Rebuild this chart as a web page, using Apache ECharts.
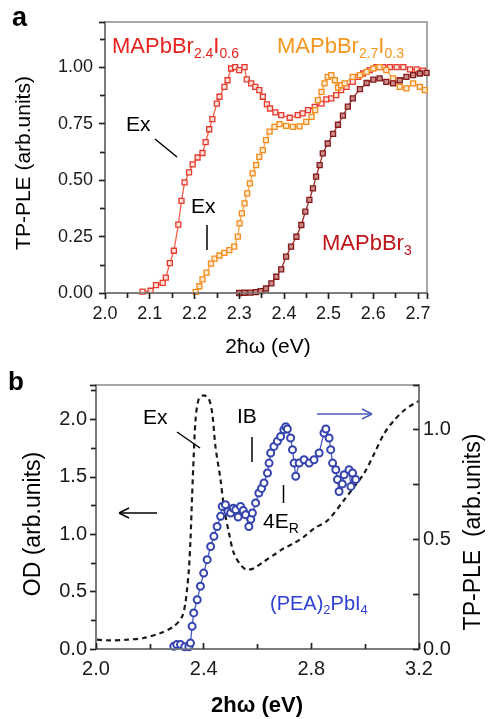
<!DOCTYPE html>
<html>
<head>
<meta charset="utf-8">
<script src="https://cdn.jsdelivr.net/npm/echarts@6/dist/echarts.min.js"></script>
<style>html,body{margin:0;padding:0;background:#fff}
.p{position:absolute;left:0;width:489px}
.ov{pointer-events:none}
#pa,#ta{top:0;height:360px}
#pb,#tb{top:360px;height:359px}
#ta,#tb{z-index:5}</style>
</head>
<body>
<div id="pa" class="p"></div>
<div id="pb" class="p"></div>
<div id="ta" class="p ov"></div>
<div id="tb" class="p ov"></div>
<script>
// ---------- Panel a data: TP-PLE (arb.units) vs 2ħω (eV) ----------
const redData = [[2.084,0.006],[2.102,0.01],[2.114,0.035],[2.129,0.045],[2.136,0.068],[2.145,0.132],[2.154,0.187],[2.164,0.303],[2.171,0.408],[2.178,0.49],[2.188,0.534],[2.196,0.57],[2.207,0.6],[2.218,0.62],[2.225,0.668],[2.233,0.725],[2.240,0.77],[2.25,0.839],[2.256,0.869],[2.267,0.913],[2.274,0.942],[2.282,0.994],[2.291,1.0],[2.30,0.987],[2.312,1.0],[2.317,0.946],[2.327,0.928],[2.336,0.913],[2.345,0.898],[2.353,0.869],[2.362,0.835],[2.369,0.817],[2.381,0.8],[2.394,0.788],[2.413,0.776],[2.431,0.788],[2.442,0.795],[2.454,0.81],[2.469,0.824],[2.484,0.839],[2.495,0.857],[2.506,0.862],[2.517,0.876],[2.528,0.898],[2.54,0.913],[2.554,0.935],[2.566,0.957],[2.577,0.972],[2.592,0.987],[2.607,1.0],[2.622,1.0],[2.637,1.0],[2.652,1.0],[2.667,1.0],[2.682,0.99],[2.697,0.99],[2.711,0.985]];
const orangeData = [[2.203,0.005],[2.211,0.03],[2.218,0.06],[2.227,0.09],[2.237,0.13],[2.245,0.152],[2.256,0.166],[2.267,0.178],[2.278,0.19],[2.289,0.205],[2.297,0.25],[2.301,0.308],[2.306,0.353],[2.312,0.397],[2.318,0.441],[2.324,0.485],[2.33,0.53],[2.338,0.566],[2.345,0.603],[2.353,0.633],[2.36,0.677],[2.368,0.715],[2.379,0.736],[2.39,0.748],[2.405,0.74],[2.42,0.736],[2.435,0.738],[2.45,0.758],[2.462,0.78],[2.47,0.81],[2.476,0.854],[2.484,0.891],[2.491,0.928],[2.498,0.957],[2.506,0.965],[2.514,0.942],[2.521,0.91],[2.528,0.92],[2.536,0.928],[2.554,0.957],[2.57,0.965],[2.585,0.979],[2.6,0.994],[2.614,1.0],[2.629,0.987],[2.644,0.95],[2.659,0.913],[2.674,0.906],[2.689,0.928],[2.704,0.913],[2.715,0.898]];
const darkRedData = [[2.30,0.0],[2.312,0.001],[2.325,0.002],[2.337,0.004],[2.348,0.008],[2.36,0.02],[2.372,0.043],[2.383,0.072],[2.394,0.105],[2.405,0.161],[2.416,0.205],[2.428,0.249],[2.439,0.301],[2.448,0.36],[2.457,0.412],[2.465,0.463],[2.472,0.515],[2.48,0.566],[2.487,0.618],[2.498,0.662],[2.51,0.705],[2.521,0.745],[2.532,0.785],[2.543,0.825],[2.554,0.862],[2.57,0.903],[2.585,0.93],[2.6,0.945],[2.614,0.95],[2.629,0.935],[2.644,0.928],[2.659,0.942],[2.674,0.957],[2.689,0.965],[2.704,0.972],[2.719,0.975]];

// ---------- Panel b data ----------
// OD (arb.units), left axis
const odData = [[2.004,0.081],[2.053,0.075],[2.115,0.081],[2.177,0.096],[2.24,0.139],[2.289,0.197],[2.32,0.283],[2.332,0.40],[2.338,0.516],[2.345,0.69],[2.351,0.95],[2.357,1.33],[2.363,1.68],[2.37,2.0],[2.382,2.18],[2.40,2.21],[2.419,2.18],[2.432,2.05],[2.444,1.76],[2.463,1.47],[2.475,1.24],[2.494,1.01],[2.512,0.835],[2.537,0.733],[2.562,0.69],[2.587,0.704],[2.624,0.762],[2.661,0.82],[2.698,0.878],[2.736,0.922],[2.773,0.979],[2.81,1.05],[2.86,1.12],[2.922,1.298],[2.959,1.414],[2.996,1.53],[3.034,1.704],[3.071,1.878],[3.108,1.994],[3.145,2.08],[3.182,2.139],[3.2,2.16]];
// TP-PLE (arb.units), right axis
const pleData = [[2.289,0.012],[2.30,0.02],[2.314,0.02],[2.33,0.01],[2.345,0.01],[2.351,0.027],[2.357,0.103],[2.363,0.164],[2.376,0.224],[2.388,0.285],[2.40,0.345],[2.413,0.406],[2.426,0.466],[2.438,0.512],[2.45,0.557],[2.463,0.603],[2.469,0.648],[2.481,0.656],[2.49,0.625],[2.50,0.618],[2.51,0.64],[2.519,0.633],[2.528,0.6],[2.537,0.648],[2.547,0.63],[2.556,0.61],[2.568,0.557],[2.575,0.59],[2.581,0.618],[2.593,0.664],[2.605,0.709],[2.615,0.73],[2.624,0.755],[2.637,0.80],[2.643,0.845],[2.649,0.891],[2.661,0.921],[2.674,0.944],[2.686,0.966],[2.698,0.997],[2.705,1.01],[2.711,1.0],[2.723,0.959],[2.73,0.906],[2.736,0.845],[2.742,0.785],[2.755,0.845],[2.773,0.86],[2.792,0.845],[2.81,0.86],[2.829,0.891],[2.847,0.982],[2.854,1.0],[2.866,0.959],[2.872,0.906],[2.879,0.845],[2.891,0.815],[2.897,0.77],[2.903,0.716],[2.915,0.75],[2.922,0.792],[2.94,0.815],[2.947,0.739],[2.953,0.80],[2.965,0.77]];

// tick label sets
const aXTicks = ['2.0','2.1','2.2','2.3','2.4','2.5','2.6','2.7'];
const aYTicks = ['0.00','0.25','0.50','0.75','1.00'];
const bXTicks = ['2.0','2.4','2.8','3.2'];
const bLeftTicks = ['0.0','0.5','1.0','1.5','2.0'];
const bRightTicks = ['0.0','0.5','1.0'];

const FF = '"Liberation Sans", Arial, Helvetica, sans-serif';
const OFF = 360; // top of panel b container
function pick(list, digits) {
  return function (v) {
    const s = v.toFixed(digits);
    return list.indexOf(s) >= 0 ? s : '';
  };
}

const ctx = document.createElement('canvas').getContext('2d');
function compound(x, y, parts, color, mainSize, subSize, subDy) {
  let cx = x; const els = [];
  parts.forEach(function (p) {
    const size = p.sub ? subSize : mainSize;
    const font = size + 'px ' + FF;
    ctx.font = font;
    els.push({type: 'text', x: cx, y: p.sub ? y + subDy : y,
      style: {text: p.t, font: font, fill: color, align: 'left', verticalAlign: 'middle'}});
    cx += ctx.measureText(p.t).width;
  });
  return els;
}
function txt(x, y, t, size, opt) {
  opt = opt || {};
  const font = (opt.bold ? 'bold ' : '') + size + 'px ' + FF;
  return {type: 'text', x: x, y: y, rotation: opt.rot || 0,
    style: {text: t, font: font, fill: opt.color || '#000', align: opt.align || 'left', verticalAlign: 'middle'}};
}
function seg(x1, y1, x2, y2, color, w) {
  return {type: 'line', shape: {x1: x1, y1: y1, x2: x2, y2: y2}, style: {stroke: color || '#000', lineWidth: w || 1.5}};
}

// axes; "ticksOnly" builds the overlay copy that carries the tick marks
function xAx(min, max, interval, ticks, size, inside, margin, ticksOnly) {
  return {type: 'value', min: min, max: max, interval: interval,
    axisLine: {show: true, onZero: false, lineStyle: {color: '#7a7a7a', width: 1.5}},
    axisTick: {show: true, inside: inside, length: 6, lineStyle: {color: '#222', width: 1.4}},
    minorTick: {show: true, splitNumber: 2, length: 5, lineStyle: {color: '#222', width: 1.4}},
    splitLine: {show: false},
    axisLabel: {show: !ticksOnly, formatter: pick(ticks, 1), fontSize: size, fontFamily: FF, color: '#1a1a1a', margin: margin}};
}
function yAx(pos, min, max, interval, ticks, digits, size, inside, margin, minor, ticksOnly) {
  return {type: 'value', position: pos, min: min, max: max, interval: interval,
    axisLine: {show: true, onZero: false, lineStyle: {color: '#7a7a7a', width: 1.5}},
    axisTick: {show: true, inside: inside, length: 6, lineStyle: {color: '#222', width: 1.4}},
    minorTick: {show: minor, splitNumber: 2, length: 5, lineStyle: {color: '#222', width: 1.4}},
    splitLine: {show: false},
    axisLabel: {show: !ticksOnly, formatter: pick(ticks, digits), fontSize: size, fontFamily: FF, color: '#1a1a1a', margin: margin}};
}
const gridA = {left: 105, top: 22, width: 322, height: 271};
const gridB = {left: 96, top: 385 - OFF, width: 323, height: 264};
function axesA(t) { return {xAxis: [xAx(2.0, 2.72, 0.1, aXTicks, 18, false, 12, t)], yAxis: [yAx('left', 0, 1.2, 0.25, aYTicks, 2, 18, false, 12, true, t)]}; }
function axesB(t) { return {xAxis: [xAx(2.0, 3.2, 0.4, bXTicks, 20, true, 10, t)],
  yAxis: [yAx('left', 0, 2.3, 0.5, bLeftTicks, 1, 20, false, 9, true, t), yAx('right', 0, 1.2, 0.25, bRightTicks, 1, 20, true, 4, false, t)]}; }

// ---------- Panel a ----------
const graphicsA = [].concat(
  [txt(12, 19, 'a', 27, {bold: true})],
  compound(112, 47, [{t: 'MAPbBr'}, {t: '2.4', sub: 1}, {t: 'I'}, {t: '0.6', sub: 1}], '#e8231e', 22, 14, 7),
  compound(277, 47, [{t: 'MAPbBr'}, {t: '2.7', sub: 1}, {t: 'I'}, {t: '0.3', sub: 1}], '#f7961f', 22, 14, 7),
  compound(322, 244, [{t: 'MAPbBr'}, {t: '3', sub: 1}], '#be1318', 22, 14, 7),
  [txt(126, 125.5, 'Ex', 21), seg(155, 139, 177, 157),
   txt(191, 207.5, 'Ex', 21), seg(207, 225, 207, 250),
   txt(24.5, 163, 'TP-PLE (arb.units)', 21, {rot: Math.PI / 2, align: 'center'}),
   txt(268, 347.5, '2\u0127\u03c9 (eV)', 21, {align: 'center'})]
);
const chartA = echarts.init(document.getElementById('pa'));
chartA.setOption(Object.assign({
  animation: false,
  grid: [Object.assign({show: true, borderColor: '#8a8a8a', borderWidth: 1.5}, gridA)],
  series: [
    {type: 'line', data: redData, symbol: 'rect', symbolSize: 5,
     lineStyle: {color: '#f2604c', width: 1.3}, itemStyle: {color: '#fde2dc', borderColor: '#e6392e', borderWidth: 1.3}},
    {type: 'line', data: orangeData, symbol: 'rect', symbolSize: 5,
     lineStyle: {color: '#f9a448', width: 1.3}, itemStyle: {color: '#fde9cf', borderColor: '#f38b1c', borderWidth: 1.3}},
    {type: 'line', data: darkRedData, symbol: 'rect', symbolSize: 5,
     lineStyle: {color: '#9a2a2a', width: 1.3}, itemStyle: {color: '#c98a8a', borderColor: '#861818', borderWidth: 1.3}}
  ],
  graphic: graphicsA
}, axesA(false)));

// ---------- Panel b (coordinates relative to its container) ----------
const graphicsB = [].concat(
  [txt(8, 383 - OFF, 'b', 26, {bold: true})],
  compound(270, 604 - OFF, [{t: '(PEA)'}, {t: '2', sub: 1}, {t: 'PbI'}, {t: '4', sub: 1}], '#2f40d2', 20, 13, 6),
  [txt(143, 418.5 - OFF, 'Ex', 21), seg(177, 432 - OFF, 200, 448 - OFF),
   txt(237, 417.5 - OFF, 'IB', 21), seg(252, 437 - OFF, 252, 462 - OFF),
   seg(283.5, 485 - OFF, 283.5, 503 - OFF)],
  compound(263, 522.5 - OFF, [{t: '4E'}, {t: 'R', sub: 1}], '#000', 21, 14, 7),
  [seg(317, 414 - OFF, 372, 414 - OFF, '#4a5ac0', 1.5), seg(372, 414 - OFF, 362, 409 - OFF, '#4a5ac0', 1.5), seg(372, 414 - OFF, 362, 419 - OFF, '#4a5ac0', 1.5),
   seg(157, 513 - OFF, 119, 513 - OFF, '#000', 1.5), seg(119, 513 - OFF, 129, 508 - OFF, '#000', 1.5), seg(119, 513 - OFF, 129, 518 - OFF, '#000', 1.5),
   txt(33.5, 524 - OFF, 'OD (arb.units)', 23, {rot: Math.PI / 2, align: 'center'}),
   txt(473.5, 532 - OFF, 'TP-PLE  (arb.units)', 23, {rot: Math.PI / 2, align: 'center'}),
   txt(257, 706 - OFF, '2h\u03c9 (eV)', 22, {bold: true, align: 'center'})]
);
const chartB = echarts.init(document.getElementById('pb'));
chartB.setOption(Object.assign({
  animation: false,
  grid: [Object.assign({show: true, borderColor: '#8a8a8a', borderWidth: 1.5}, gridB)],
  series: [
    {type: 'line', xAxisIndex: 0, yAxisIndex: 0, data: odData, symbol: 'none', smooth: 0.3,
     lineStyle: {color: '#1a1a1a', width: 2.2, type: [5, 4]}},
    {type: 'line', xAxisIndex: 0, yAxisIndex: 1, data: pleData, symbol: 'circle', symbolSize: 7, z: 3,
     lineStyle: {color: '#4a58bd', width: 1.3}, itemStyle: {color: '#ffffff', borderColor: '#3443ae', borderWidth: 2}}
  ],
  graphic: graphicsB
}, axesB(false)));

// ---------- Tick overlays: the same axes drawn again, carrying the tick marks ----------
const tickA = echarts.init(document.getElementById('ta'));
tickA.setOption(Object.assign({animation: false, grid: [Object.assign({}, gridA)], series: []}, axesA(true)));
const tickB = echarts.init(document.getElementById('tb'));
tickB.setOption(Object.assign({animation: false, grid: [Object.assign({}, gridB)], series: []}, axesB(true)));
</script>
</body>
</html>
